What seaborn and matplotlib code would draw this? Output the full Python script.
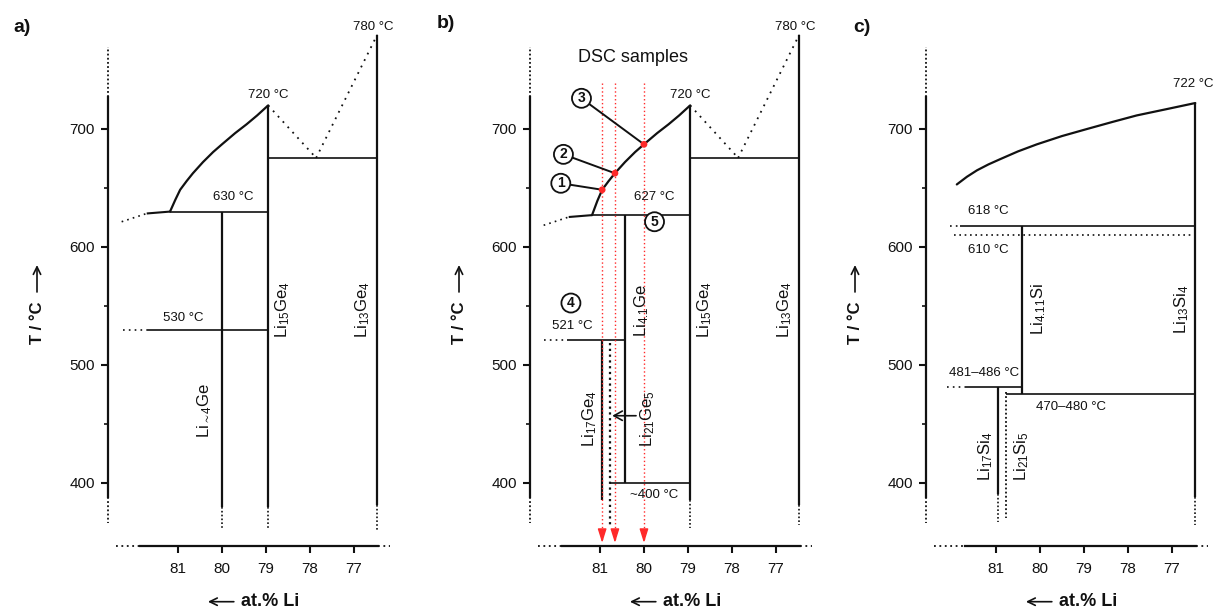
import matplotlib
matplotlib.use("Agg")
import matplotlib.pyplot as plt
import pandas as pd
import seaborn as sns

# ---------------------------------------------------------------- data
# phase compositions (at.% Li)
X_LI4GE = 80.00
X_LI41GE = 80.42
X_LI15GE4 = 78.95
X_LI13GE4 = 76.47
X_LI17GE4 = 80.95
X_LI21GE5 = 80.77
X_LI411SI = 80.40
X_LI13SI4 = 76.47
X_LI17SI4 = 80.95
X_LI21SI5 = 80.77

# Li-Ge liquidus (Li-rich side of Li15Ge4)
ge_liq_x = [81.18, 81.06, 80.95, 80.80, 80.66, 80.43, 80.20, 80.00,
            79.70, 79.44, 79.20, 78.95]
ge_liq_t_a = [630, 640, 648.5, 656, 662.5, 672, 680.5, 687,
              696.5, 704, 711.5, 720]
ge_liq_t_b = [627, 639, 648.5, 656, 662.5, 672, 680.5, 687,
              696.5, 704, 711.5, 720]
# liquidus between Li15Ge4 and Li13Ge4 (estimated, dotted)
ge_eut_x = [78.95, 77.86, 76.47]
ge_eut_t = [720, 675.5, 780]
T_GE_EUT = 675.5

# invariant temperatures
T_A_PERITECTIC = 630
T_A_LOW = 530
T_B_PERITECTIC = 627
T_B_LOW = 521
T_B_DECOMP = 400

# DSC samples (panel b)
dsc_x = [80.95, 80.66, 80.00]
dsc_t = [648.5, 662.5, 687]
dsc_num = ["1", "2", "3"]

# Li-Si liquidus
si_liq_x = [81.89, 81.66, 81.43, 81.17, 80.90, 80.50, 80.07, 79.50,
            78.93, 78.35, 77.80, 77.10, 76.47]
si_liq_t = [653, 659.5, 665, 670, 674.5, 681, 687, 694,
            700, 706, 711.5, 717, 722]
T_SI_618 = 618
T_SI_610 = 610
T_SI_481 = 481
T_SI_475 = 475

x_ticks = [81, 80, 79, 78, 77]
y_ticks = [400, 500, 600, 700]
y_minor = [450, 550, 650]

# ---------------------------------------------------------------- style
sns.set_theme(style="ticks")
plt.rcParams["font.family"] = ["Liberation Sans", "DejaVu Sans"]
plt.rcParams.update({
    "mathtext.fontset": "custom",
    "mathtext.rm": "Liberation Sans",
    "mathtext.it": "Liberation Sans:italic",
    "mathtext.bf": "Liberation Sans:bold",
    "mathtext.default": "regular",
    "axes.linewidth": 1.6,
    "xtick.major.width": 1.5,
    "ytick.major.width": 1.5,
    "ytick.minor.width": 1.2,
    "xtick.major.size": 4.8,
    "ytick.major.size": 4.8,
    "ytick.minor.size": 2.6,
    "xtick.color": "#111111",
    "ytick.color": "#111111",
    "axes.edgecolor": "#111111",
})

K = "#111111"
RED = "#ff2a2a"
PX_X = 44.0      # pixels per at.%
PX_T = 1.18      # pixels per K
AX_W, AX_H = 300, 516
X_LEFT = 82.59
Y_BOT = 346.6
W_V = 1.6        # phase lines
W_H = 1.2        # tie lines
DOT = (0, (1, 1.3))
DOT_WIDE = (0, (1, 3))
SMALL = 9.5
FORM = 12

FIG_W, FIG_H = 1213, 610
fig = plt.figure(figsize=(FIG_W / 100, FIG_H / 100), dpi=100)


def make_axes(left_px):
    ax = fig.add_axes([left_px / FIG_W, (FIG_H - 546) / FIG_H,
                       AX_W / FIG_W, AX_H / FIG_H])
    ax.set_facecolor("none")
    return ax


def dotted(ax, xs, ys, style=DOT, lw=1.2, color=K):
    ax.plot(xs, ys, ls=style, lw=lw, color=color, clip_on=False,
            solid_capstyle="butt")


def solid(ax, xs, ys, lw=W_H):
    ax.plot(xs, ys, color=K, lw=lw, clip_on=False, solid_capstyle="butt")


def frame(ax, axis_from, tag, tag_xy):
    ax.set_xlim(X_LEFT, X_LEFT - AX_W / PX_X)
    ax.set_ylim(Y_BOT, Y_BOT + AX_H / PX_T)
    sns.despine(ax=ax)
    ax.grid(False)
    ax.spines["left"].set_bounds(388, 727)
    ax.spines["bottom"].set_bounds(76.45, axis_from)
    ax.set_xticks(x_ticks)
    ax.set_xticklabels([str(v) for v in x_ticks])
    ax.set_yticks(y_ticks)
    ax.set_yticks(y_minor, minor=True)
    ax.tick_params(axis="both", labelsize=11, colors=K)
    ax.tick_params(axis="x", pad=6.5)
    ax.tick_params(axis="y", pad=4.5)
    ax.set_xlabel("")
    ax.set_ylabel("")
    # broken-axis continuations
    dotted(ax, [X_LEFT, X_LEFT], [727, 769.5], lw=1.3)
    dotted(ax, [X_LEFT, X_LEFT], [388, 366], lw=1.3)
    dotted(ax, [82.40, axis_from], [Y_BOT, Y_BOT], style=(0, (1, 2)), lw=1.3)
    dotted(ax, [76.45, 76.18], [Y_BOT, Y_BOT], style=(0, (1, 2)), lw=1.3)
    # axis titles
    ax.text(-71 / AX_W, (546 - 323) / AX_H, "T / °C", transform=ax.transAxes,
            rotation=90, ha="center", va="center", fontsize=12,
            fontweight="bold", color=K)
    ax.annotate("", xy=(-71 / AX_W, (546 - 265) / AX_H),
                xytext=(-71 / AX_W, (546 - 292) / AX_H),
                xycoords="axes fraction", textcoords="axes fraction",
                arrowprops=dict(arrowstyle="->,head_length=0.45,head_width=0.22",
                                lw=1.2, color=K, shrinkA=0, shrinkB=0))
    ax.annotate("", xy=(80.32, 299.4), xytext=(79.73, 299.4),
                xycoords="data", annotation_clip=False,
                arrowprops=dict(arrowstyle="->,head_length=0.45,head_width=0.22",
                                lw=1.2, color=K, shrinkA=0, shrinkB=0))
    ax.text(79.56, 299.4, "at.% Li", ha="left", va="center", fontsize=13,
            fontweight="bold", color=K, clip_on=False)
    fig.text(tag_xy[0] / FIG_W, 1 - tag_xy[1] / FIG_H, tag, ha="center",
             va="center", fontsize=14, fontweight="bold", color=K)


def label(ax, x, t, s, size=SMALL, rot=0, **kw):
    ax.text(x, t, s, ha="center", va="center", fontsize=size, rotation=rot,
            color=K, clip_on=False, **kw)


def liquidus(ax, xs, ts, lw=1.6):
    df = pd.DataFrame({"x": xs, "T": ts})
    sns.lineplot(data=df, x="x", y="T", ax=ax, sort=False, estimator=None,
                 color=K, lw=lw, legend=False, clip_on=False)
    ax.set_xlabel("")
    ax.set_ylabel("")


def ge_common(ax, t_flat):
    # liquidus, left branch and the Li15Ge4 / Li13Ge4 region
    ts = ge_liq_t_a if t_flat == T_A_PERITECTIC else ge_liq_t_b
    liquidus(ax, ge_liq_x, ts)
    solid(ax, [81.71, ge_liq_x[0]], [t_flat - 1.6, t_flat], lw=1.5)
    dotted(ax, [82.28, 81.71], [t_flat - 8.6, t_flat - 1.6], style=(0, (1, 2.5)))
    dotted(ax, ge_eut_x[:2], ge_eut_t[:2], style=DOT_WIDE, lw=1.3)
    dotted(ax, ge_eut_x[1:], ge_eut_t[1:], style=DOT_WIDE, lw=1.3)
    solid(ax, [X_LI15GE4, X_LI13GE4], [T_GE_EUT, T_GE_EUT])
    solid(ax, [ge_liq_x[0], X_LI15GE4], [t_flat, t_flat])
    solid(ax, [X_LI13GE4, X_LI13GE4], [ge_eut_t[-1], 381], lw=W_V)
    label(ax, 78.95, 728.8, "720 °C")
    ax.text(76.57, 781, "780 °C", ha="center", va="bottom", fontsize=SMALL,
            color=K, clip_on=False)
    label(ax, 78.61, 546.6, r"Li$_{15}$Ge$_{4}$", size=FORM, rot=90)
    label(ax, 76.80, 546.6, r"Li$_{13}$Ge$_{4}$", size=FORM, rot=90)


# ---------------------------------------------------------------- panel a
ax = make_axes(108)
frame(ax, 81.86, "a)", (22, 27))
ge_common(ax, T_A_PERITECTIC)
solid(ax, [X_LI4GE, X_LI4GE], [T_A_PERITECTIC, 380], lw=W_V)
dotted(ax, [X_LI4GE, X_LI4GE], [380, 360])
solid(ax, [X_LI15GE4, X_LI15GE4], [720, 380], lw=W_V)
dotted(ax, [X_LI15GE4, X_LI15GE4], [380, 360])
dotted(ax, [X_LI13GE4, X_LI13GE4], [381, 360])
solid(ax, [81.71, X_LI15GE4], [T_A_LOW, T_A_LOW])
dotted(ax, [82.25, 81.71], [T_A_LOW, T_A_LOW], style=(0, (1, 2.5)))
label(ax, 79.74, 642, "630 °C")
label(ax, 80.88, 539.6, "530 °C")
label(ax, 80.39, 462, r"Li$_{\sim4}$Ge", size=FORM, rot=90)

# ---------------------------------------------------------------- panel b
ax = make_axes(530)
frame(ax, 81.87, "b)", (446, 24))
ge_common(ax, T_B_PERITECTIC)
solid(ax, [X_LI15GE4, X_LI15GE4], [720, 385.6], lw=W_V)
dotted(ax, [X_LI15GE4, X_LI15GE4], [385.6, 362])
dotted(ax, [X_LI13GE4, X_LI13GE4], [381, 364])
solid(ax, [X_LI41GE, X_LI41GE], [T_B_PERITECTIC, T_B_DECOMP], lw=W_V)
solid(ax, [X_LI17GE4, X_LI17GE4], [T_B_LOW, 385.6], lw=W_V)
dotted(ax, [X_LI21GE5, X_LI21GE5], [519, 363], style=(0, (1, 1.6)), lw=1.6)
solid(ax, [81.74, X_LI41GE], [T_B_LOW, T_B_LOW])
dotted(ax, [82.27, 81.74], [T_B_LOW, T_B_LOW], style=(0, (1, 2.5)))
solid(ax, [X_LI21GE5, X_LI15GE4], [T_B_DECOMP, T_B_DECOMP])
# DSC sample compositions
for xd in dsc_x:
    dotted(ax, [xd, xd], [738.7, 352], style=(0, (1, 1.8)), lw=1.0, color=RED)
    ax.annotate("", xy=(xd, 349.2), xytext=(xd, 359),
                annotation_clip=False,
                arrowprops=dict(arrowstyle="-|>,head_length=0.7,head_width=0.22",
                                color=RED, lw=1.0, shrinkA=0, shrinkB=0))
circ_x = [81.89, 81.83, 81.42]
circ_t = [654, 678.5, 726]
for cx, ct, xd, td, n in zip(circ_x, circ_t, dsc_x, dsc_t, dsc_num):
    solid(ax, [cx, xd], [ct, td], lw=1.4)
    label(ax, cx, ct, n, size=10, fontweight="bold", zorder=6,
          bbox=dict(boxstyle="circle,pad=0.18", fc="white", ec=K, lw=1.3))
sns.scatterplot(x=dsc_x, y=dsc_t, ax=ax, color=RED, s=24, edgecolor="none",
                zorder=7, legend=False, clip_on=False)
ax.set_xlabel("")
ax.set_ylabel("")
label(ax, 81.66, 552.5, "4", size=10, fontweight="bold", zorder=6,
      bbox=dict(boxstyle="circle,pad=0.18", fc="white", ec=K, lw=1.3))
label(ax, 79.76, 621.4, "5", size=10, fontweight="bold", zorder=6,
      bbox=dict(boxstyle="circle,pad=0.18", fc="white", ec=K, lw=1.3))
label(ax, 80.26, 761, "DSC samples", size=13)
label(ax, 79.76, 642, "627 °C")
label(ax, 81.62, 533, "521 °C")
label(ax, 79.76, 390, "~400 °C")
label(ax, 80.06, 546.6, r"Li$_{4.1}$Ge", size=FORM, rot=90)
label(ax, 81.24, 455, r"Li$_{17}$Ge$_{4}$", size=FORM, rot=90)
label(ax, 79.91, 455, r"Li$_{21}$Ge$_{5}$", size=FORM, rot=90)
ax.annotate("", xy=(80.72, 457), xytext=(80.18, 457), annotation_clip=False,
            arrowprops=dict(arrowstyle="->,head_length=0.5,head_width=0.28",
                            lw=1.2, color=K, shrinkA=0, shrinkB=0))

# ---------------------------------------------------------------- panel c
ax = make_axes(926)
frame(ax, 81.70, "c)", (862, 27))
liquidus(ax, si_liq_x, si_liq_t)
solid(ax, [X_LI13SI4, X_LI13SI4], [si_liq_t[-1], 388.4], lw=W_V)
dotted(ax, [X_LI13SI4, X_LI13SI4], [388.4, 364.4])
solid(ax, [81.81, X_LI13SI4], [T_SI_618, T_SI_618])
dotted(ax, [82.04, 81.81], [T_SI_618, T_SI_618], style=(0, (1, 2.5)))
dotted(ax, [81.96, X_LI13SI4], [T_SI_610, T_SI_610], style=(0, (1, 2.2)))
solid(ax, [X_LI411SI, X_LI411SI], [T_SI_618, T_SI_475], lw=W_V)
solid(ax, [81.70, X_LI411SI], [T_SI_481, T_SI_481])
dotted(ax, [82.11, 81.70], [T_SI_481, T_SI_481], style=(0, (1, 2.5)))
solid(ax, [X_LI21SI5, X_LI13SI4], [T_SI_475, T_SI_475])
solid(ax, [X_LI17SI4, X_LI17SI4], [T_SI_481, 390.5], lw=W_V)
dotted(ax, [X_LI17SI4, X_LI17SI4], [390.5, 367])
dotted(ax, [X_LI21SI5, X_LI21SI5], [477.5, 370], lw=1.3)
ax.text(76.51, 733, "722 °C", ha="center", va="bottom", fontsize=SMALL,
        color=K, clip_on=False)
label(ax, 81.17, 630.8, "618 °C")
label(ax, 81.17, 597.5, "610 °C")
label(ax, 81.28, 493.5, "481–486 °C")
label(ax, 79.29, 464.2, "470–480 °C")
label(ax, 80.04, 547.5, r"Li$_{4.11}$Si", size=FORM, rot=90)
label(ax, 76.78, 547.5, r"Li$_{13}$Si$_{4}$", size=FORM, rot=90)
label(ax, 81.23, 423, r"Li$_{17}$Si$_{4}$", size=FORM, rot=90)
label(ax, 80.42, 423, r"Li$_{21}$Si$_{5}$", size=FORM, rot=90)

fig.savefig("out.png", dpi=100, facecolor="white")
